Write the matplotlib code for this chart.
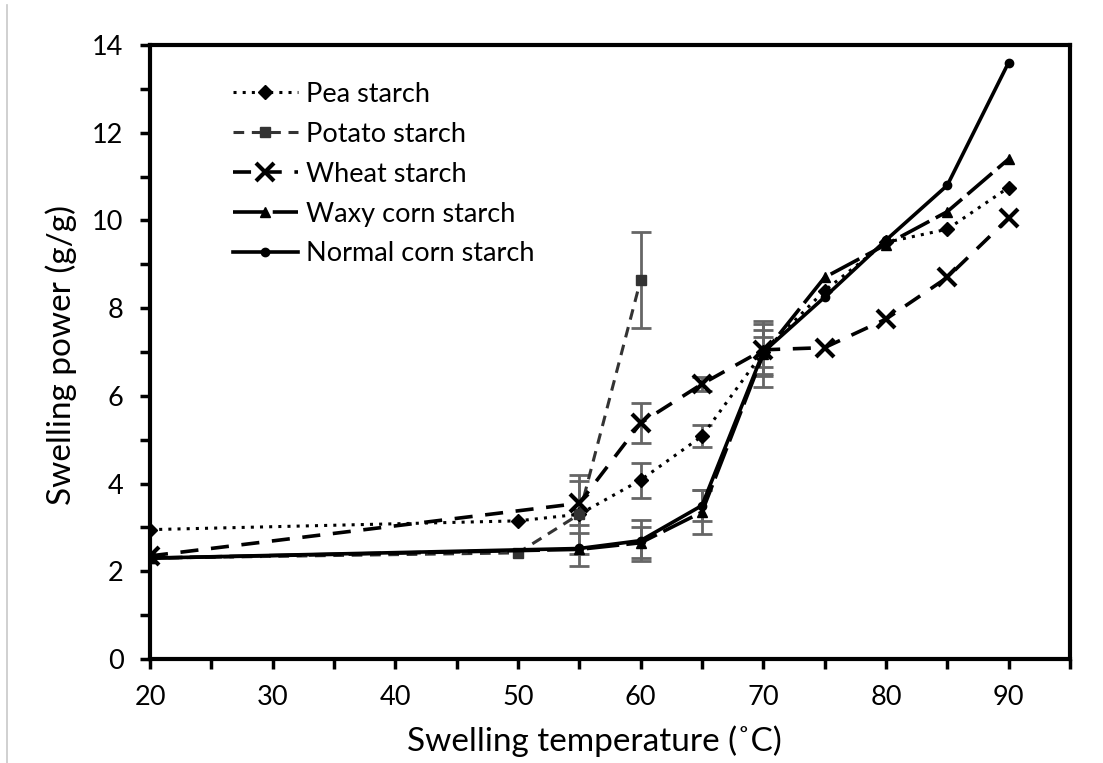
import matplotlib.pyplot as plt
from matplotlib.lines import Line2D

plt.rcParams['font.family'] = ['Lato', 'DejaVu Sans']

# swelling power (g/g) vs temperature for each starch
pea_t = [20, 50, 55, 60, 65, 70, 75, 80, 85, 90]
pea_sp = [2.95, 3.15, 3.3, 4.08, 5.08, 7.0, 8.4, 9.5, 9.8, 10.75]
pea_err = [0, 0, 0, 0.4, 0.25, 0.35, 0, 0, 0, 0]

potato_t = [20, 50, 55, 60]
potato_sp = [2.3, 2.42, 3.3, 8.64]
potato_err = [0, 0, 0.9, 1.1]

wheat_t = [20, 55, 60, 65, 70, 75, 80, 85, 90]
wheat_sp = [2.35, 3.55, 5.38, 6.27, 7.05, 7.1, 7.75, 8.7, 10.05]
wheat_err = [0, 0.5, 0.45, 0.17, 0.6, 0, 0, 0, 0]

waxy_t = [20, 55, 60, 65, 70, 75, 80, 85, 90]
waxy_sp = [2.3, 2.5, 2.65, 3.35, 6.95, 8.7, 9.45, 10.2, 11.4]
waxy_err = [0, 0.37, 0.35, 0.5, 0.75, 0, 0, 0, 0]

normal_t = [20, 55, 60, 65, 70, 75, 80, 85, 90]
normal_sp = [2.3, 2.52, 2.7, 3.5, 7.0, 8.25, 9.55, 10.8, 13.6]
normal_err = [0, 0, 0.47, 0.35, 0.5, 0, 0, 0, 0]

fig = plt.figure(figsize=(11.03, 7.63), dpi=100)
ax = fig.add_axes([0.136, 0.1363, 0.834, 0.8047])

ebar = dict(ecolor='#666666', elinewidth=2, capsize=7, capthick=2)

series = [
    (pea_t, pea_sp, pea_err, dict(color='black', ls=(0, (1, 2)), lw=2.2, marker='D', ms=7), 'Pea starch'),
    (potato_t, potato_sp, potato_err, dict(color='#333333', ls=(0, (3.5, 2.5)), lw=2.2, marker='s', ms=7), 'Potato starch'),
    (wheat_t, wheat_sp, wheat_err, dict(color='black', ls=(0, (5, 3.5)), lw=2.6, marker='x', ms=13, mew=3), 'Wheat starch'),
    (waxy_t, waxy_sp, waxy_err, dict(color='black', ls=(0, (9, 2)), lw=2.6, marker='^', ms=7), 'Waxy corn starch'),
    (normal_t, normal_sp, normal_err, dict(color='black', ls='-', lw=2.6, marker='o', ms=6), 'Normal corn starch'),
]

handles = []
for t, sp, err, st, name in series:
    yerr = [e if e > 0 else float('nan') for e in err]
    ax.errorbar(t, sp, yerr=yerr, fmt='none', zorder=2, **ebar)
    ax.plot(t, sp, zorder=3, **st)
    handles.append(Line2D([], [], **st))

ax.set_xlim(20, 95)
ax.set_ylim(0, 14)
ax.set_xticks(range(20, 91, 10))
ax.set_xticks(range(25, 96, 5), minor=True)
ax.set_yticks(range(0, 15, 2))
ax.set_yticks(range(1, 14, 2), minor=True)
ax.tick_params(which='both', direction='out', width=2.5, length=7, colors='black', labelsize=19.5)
ax.tick_params(axis='y', which='both', pad=12)
ax.tick_params(axis='x', which='both', pad=12)
for s in ax.spines.values():
    s.set_linewidth(3)

ax.set_xlabel('Swelling temperature (˚C)', fontsize=24)
ax.set_ylabel('Swelling power (g/g)', fontsize=24)
ax.xaxis.set_label_coords(0.483, -0.108)
ax.yaxis.set_label_coords(-0.079, 0.495)

leg = ax.legend(handles, [s[4] for s in series], loc='upper left', bbox_to_anchor=(0.09, 0.94),
                borderaxespad=0, borderpad=0, frameon=False, fontsize=19.5,
                handlelength=2.4, handletextpad=0.3, labelspacing=0.55)

# thin gray rule at the left edge
fig.add_artist(Line2D([0.0065, 0.0065], [0.0, 0.993], color='#c8c8c8', lw=1.2))

fig.savefig('out.png', dpi=100, facecolor='white')
